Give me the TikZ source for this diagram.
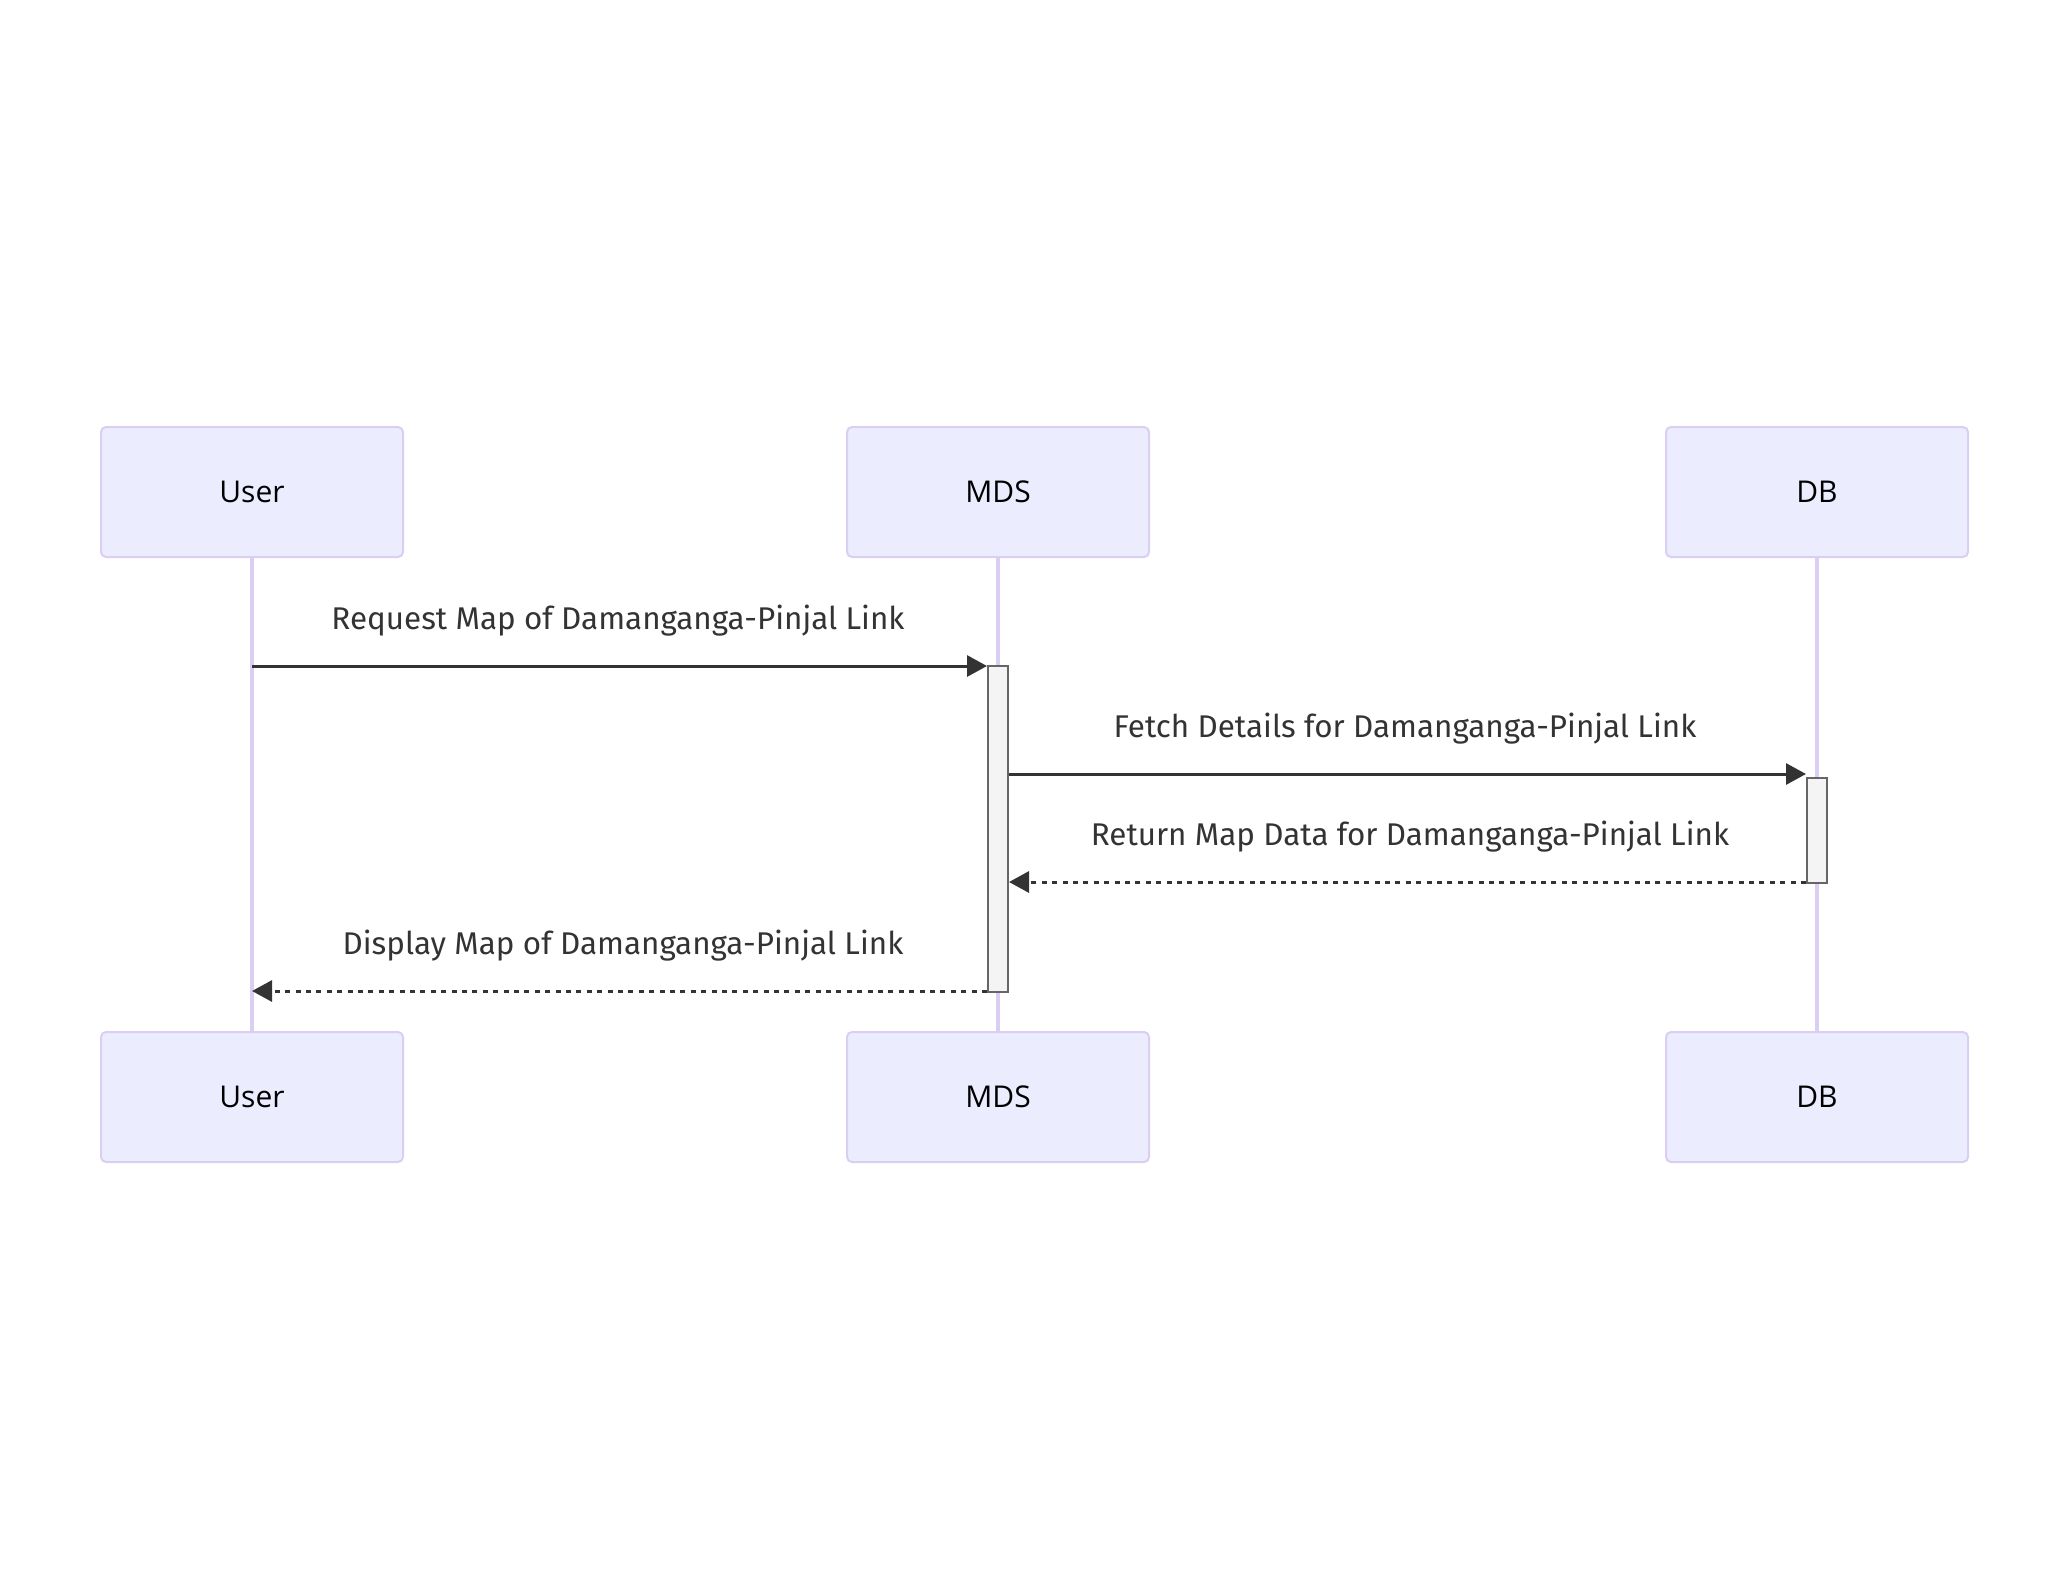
\documentclass[tikz,border=0pt]{standalone}
\usepackage{fontspec}
\setmainfont{Fira Sans}
\newfontfamily\actorfont{Open Sans}
\usetikzlibrary{arrows.meta}
\definecolor{actfill}{HTML}{ECECFF}
\definecolor{actline}{HTML}{DACEF3}
\definecolor{msgc}{HTML}{333333}
\definecolor{actvfill}{HTML}{F4F4F4}
\definecolor{actvline}{HTML}{666666}
\begin{document}
\begin{tikzpicture}[x=0.5pt,y=-0.5pt,
  actor/.style={draw=actline,fill=actfill,line width=1pt,rounded corners=2.5pt,
    minimum width=151pt,minimum height=65pt,inner sep=0pt,
    font=\actorfont\fontsize{15}{18}\selectfont,text=black},
  life/.style={draw=actline,line width=2pt},
  actv/.style={draw=actvline,fill=actvfill,line width=1pt,inner sep=0pt,minimum width=10pt},
  msgline/.style={draw=msgc,line width=1.5pt,-{Triangle[length=10pt,width=10.5pt]}},
  retline/.style={msgline,dash pattern=on 2.5pt off 2.7pt},
  lbl/.style={text=msgc,font=\fontsize{15.7}{19}\selectfont,inner sep=0pt,anchor=base}]
\useasboundingbox (0,0) rectangle (2068,1592);
% actors
\node[actor] (ut) at (252,492) {User};
\node[actor] (mt) at (998,492) {MDS};
\node[actor] (dt) at (1817,492) {DB};
\node[actor] (ub) at (252,1097) {User};
\node[actor] (mb) at (998,1097) {MDS};
\node[actor] (db) at (1817,1097) {DB};
% lifelines
\draw[life] (ut.south) -- (ub.north);
\draw[life] (mt.south) -- (mb.north);
\draw[life] (dt.south) -- (db.north);
% activations
\node[actv,minimum height=163pt] (am) at (998,829) {};
\node[actv,minimum height=52.5pt] (ad) at (1817,830.5) {};
% message levels
\coordinate (y1) at (0,666);
\coordinate (y2) at (0,774);
\coordinate (y3) at (0,882);
\coordinate (y4) at (0,991);
% messages
\draw[msgline] (ut |- y1) -- (am.west |- y1);
\draw[msgline] (am.east |- y2) -- (ad.west |- y2);
\draw[retline] (ad.west |- y3) -- (am.east |- y3);
\draw[retline] (am.west |- y4) -- (ub |- y4);
% labels
\node[lbl] (l1) at (618,629) {Request Map of Damanganga-Pinjal Link};
\node[lbl] (l2) at (1405,737) {Fetch Details for Damanganga-Pinjal Link};
\node[lbl] (l3) at (1410,845) {Return Map Data for Damanganga-Pinjal Link};
\node[lbl] (l4) at (623,954) {Display Map of Damanganga-Pinjal Link};
\end{tikzpicture}
\end{document}
